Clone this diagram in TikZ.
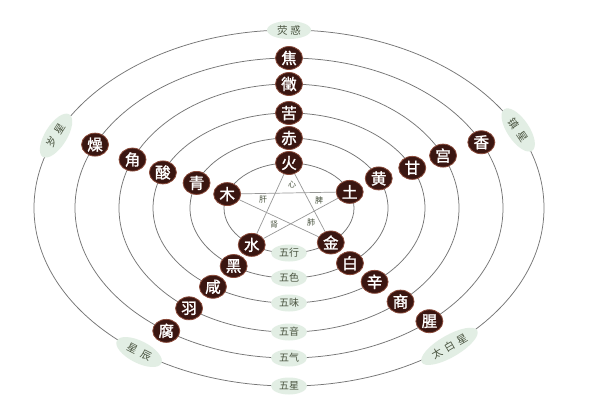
\documentclass[tikz,border=0pt]{standalone}
\usepackage{fontspec}
\newfontfamily\cjk{Noto Sans CJK SC}
\newfontfamily\cjkb[FakeBold=1.6]{Noto Sans CJK SC}
\usetikzlibrary{shapes.geometric}
\definecolor{ringc}{HTML}{767676}
\definecolor{diskc}{HTML}{3A1611}
\definecolor{diskrim}{HTML}{8A4A3A}
\definecolor{bubc}{HTML}{E2EEE4}
\definecolor{labtxt}{HTML}{4A5440}
\tikzset{
 ringline/.style={draw=ringc, line width=0.75pt},
 starline/.style={draw=ringc!75, line width=0.7pt},
 diskn/.style={ellipse, fill=diskc, draw=diskrim, line width=0.8pt, minimum width=27pt, minimum height=23pt, inner sep=0pt, text=white, font=\cjkb\fontsize{15.5}{15.5}\selectfont},
 bubble/.style={ellipse, fill=bubc, inner sep=0.5pt, minimum width=36pt, minimum height=17pt, text=labtxt, font=\cjk\fontsize{10}{10}\selectfont},
 starbub/.style={ellipse, fill=bubc, inner sep=0.5pt, minimum width=50pt, minimum height=22pt, text=labtxt, font=\cjk\fontsize{10.5}{10.5}\selectfont},
 organ/.style={text=labtxt, font=\cjk\fontsize{8}{8}\selectfont, inner sep=0.5pt},
}
\begin{document}
\begin{tikzpicture}[x=1pt,y=1pt]
\useasboundingbox[fill=white] (0,-400) rectangle (600,0);
\begin{scope}[shift={(289,-208)}]
\coordinate (c) at (0,0);
\foreach \rx/\ry in {65/45,99/70,136/95,170/124,214/150,255/178}
  \draw[ringline] (c) ellipse [x radius=\rx pt, y radius=\ry pt];
% top arm
\node[diskn] (huo) at (90:65 and 45) {火};
\node[diskn] (chi) at (90:99 and 70) {赤};
\node[diskn] (ku) at (90:136 and 95) {苦};
\node[diskn] (zhi) at (90:170 and 124) {徵};
\node[diskn] (jiao) at (90:214 and 150) {焦};
\node[starbub, minimum width=44pt, minimum height=18pt] (yinghuo) at (90:255 and 178) {荧\hspace{3pt}惑};
% left arm
\node[diskn] (mu) at (162:65 and 45) {木};
\node[diskn] (qing) at (159:99 and 70) {青};
\node[diskn] (suan) at (158:136 and 95) {酸};
\node[diskn] (jue) at (157:170 and 124) {角};
\node[diskn] (zao) at (155:214 and 150) {燥};
\node[starbub, rotate=58] (suixing) at (156:255 and 178) {岁\hspace{5pt}星};
% right arm
\node[diskn] (tu) at (21:65 and 45) {土};
\node[diskn] (huang) at (25:99 and 70) {黄};
\node[diskn] (gan) at (25:136 and 95) {甘};
\node[diskn] (gong) at (25:170 and 124) {宫};
\node[diskn] (xiang) at (26:214 and 150) {香};
\node[starbub, rotate=-56] (zhenxing) at (26:255 and 178) {镇\hspace{5pt}星};
% lower left arm
\node[diskn] (shui) at (235:65 and 45) {水};
\node[diskn] (hei) at (236:99 and 70) {黑};
\node[diskn] (xian) at (236:136 and 95) {咸};
\node[diskn] (yu) at (234:170 and 124) {羽};
\node[diskn] (fu) at (235:214 and 150) {腐};
\node[starbub, rotate=-27] (chenxing) at (234:255 and 178) {星\hspace{5pt}辰};
% lower right arm
\node[diskn] (jin) at (310:65 and 45) {金};
\node[diskn] (bai) at (308:99 and 70) {白};
\node[diskn] (xin) at (309:136 and 95) {辛};
\node[diskn] (shang) at (311:170 and 124) {商};
\node[diskn] (xing) at (311:214 and 150) {腥};
\node[starbub, rotate=30, minimum width=64pt] (taibai) at (309:255 and 178) {太\hspace{4pt}白\hspace{4pt}星};
% bottom labels
\node[bubble] (wuxing) at (270:65 and 45) {五行};
\node[bubble] (wuse) at (270:99 and 70) {五色};
\node[bubble] (wuwei) at (270:136 and 95) {五味};
\node[bubble] (wuyin) at (270:170 and 124) {五音};
\node[bubble] (wuqi) at (270:214 and 150) {五气};
\node[bubble] (wuxingstar) at (270:255 and 178) {五星};
% pentagram
\draw[starline] (huo) -- (shui);
\draw[starline] (shui) -- (tu);
\draw[starline] (tu) -- (mu);
\draw[starline] (mu) -- (jin);
\draw[starline] (jin) -- (huo);
% organs
\node[organ] (xinzang) at (3,23) {心};
\node[organ] (gan2) at (-26,8) {肝};
\node[organ] (pi) at (30,8) {脾};
\node[organ] (shen) at (-15,-17) {肾};
\node[organ] (fei) at (22,-15) {肺};
\end{scope}
\end{tikzpicture}
\end{document}
